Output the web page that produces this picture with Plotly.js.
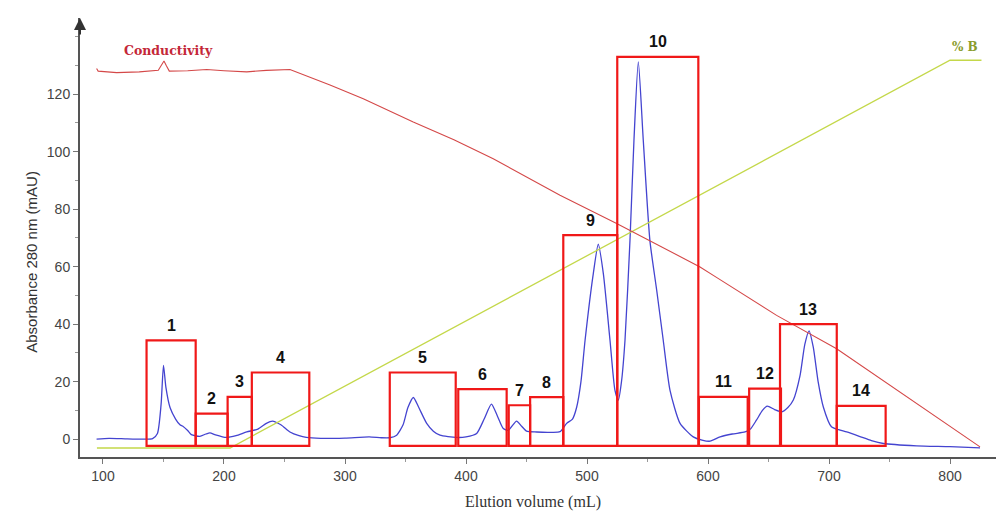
<!DOCTYPE html>
<html>
<head>
<meta charset="utf-8">
<script src="https://cdn.plot.ly/plotly-3.0.1.min.js"></script>
<style>
  html, body { margin: 0; padding: 0; background: #ffffff; }
  #chart { width: 996px; height: 512px; }
</style>
</head>
<body>
<div id="chart"></div>
<script>
// UV absorbance at 280 nm (mAU) against elution volume (mL)
const volumeUV = [94.7, 105, 120, 135, 141, 145, 148, 150, 152, 155.4, 160, 163.6, 166, 170, 173, 180, 185, 188.4,
  193, 202, 210, 218.8, 228, 235, 240, 247, 254.5, 262, 268, 280, 300, 320, 330, 337, 342.7, 348, 352, 356.5,
  361, 367.5, 373, 378.5, 392, 400, 408.8, 415, 421, 426, 430.8, 435, 441.8, 446, 450, 458.4, 470, 477.7,
  483.2, 488, 491.5, 495, 498.4, 505.2, 509.3, 513.5, 519, 523.1, 525.9, 528.5, 531.4, 535.5, 538.8, 542.4,
  546.5, 552, 557.6, 563, 568.6, 576.9, 587.8, 595, 601.7, 610, 620, 630.6, 635, 640, 645, 649, 655, 661,
  666, 670.5, 676, 680, 683.5, 687, 691, 695.3, 702, 708, 714.6, 725, 735, 744.9, 772.4, 800, 824.8];
const absorbance = [0, 0.3, 0.1, 0, 0.2, 2, 12, 25.7, 18, 11, 7, 5, 4.5, 3, 1.6, 1.0, 1.8, 2.2,
  1.5, 0.6, 1.2, 2.5, 3.5, 5.5, 6.3, 5, 2.5, 1.2, 0.6, 0.3, 0.4, 0.8, 0.5, 0.5, 1.4, 5, 11, 14.5,
  11, 5.5, 2.8, 1.4, 0.6, 0.8, 2, 7, 12.2, 8, 3.7, 3.1, 6.3, 4.5, 2.8, 2.5, 2.4, 2.6,
  5.5, 7, 11.2, 20, 34.4, 57.6, 67.8, 57.6, 34.4, 17, 13.6, 20, 34.4, 69, 104, 131.2,
  104, 69, 51.8, 34.4, 17, 5.5, 0.8, -0.3, -0.7, 0.8, 1.8, 2.5, 3.5, 6.6, 10, 11.5, 10.3, 9.5,
  11, 13.6, 22, 33, 37.7, 32, 20, 11.2, 4.3, 3.3, 2.5, 1, -0.5, -1.5, -2.3, -2.6, -3];

// Conductivity, relative scale (secondary, unlabelled axis)
const volumeCond = [94.7, 96, 111.3, 130, 145.7, 148, 150.4, 152.5, 154.8, 170, 185.7, 200, 218.8, 235, 254.5,
  287.6, 315.1, 356.4, 390, 422.5, 477.7, 524.5, 593.4, 607, 656.7, 706.3, 760, 824.8];
const conductivity = [97.9, 97.2, 96.8, 97.0, 97.4, 98.5, 99.8, 98.5, 97.2, 97.3, 97.6, 97.3, 97.0, 97.4, 97.6,
  93.6, 90.1, 84.1, 79.5, 74.6, 65.2, 57.9, 46.7, 44.0, 34.2, 25.6, 14.1, 0.3];

// Gradient, % B
const volumeB = [95, 205, 800, 826];
const percentB = [0, 0, 100, 100];

// Collected fractions: volume window and box height (mAU)
const fractionLabels = ['1', '2', '3', '4', '5', '6', '7', '8', '9', '10', '11', '12', '13', '14'];
const fractionStart = [136, 176.6, 203, 223, 337, 393.6, 435.3, 453, 480.4, 525, 592.5, 634, 659.5, 706.4];
const fractionEnd = [176.6, 203, 223, 270.5, 391.5, 433.6, 453, 480.4, 525, 592, 632.8, 660.3, 706.4, 746.8];
const fractionHeight = [34.4, 8.9, 14.7, 23.2, 23.2, 17.4, 11.8, 14.6, 71, 133, 14.7, 17.6, 40, 11.6];
const fractionFloor = -2.3;

const xTickValues = [100, 200, 300, 400, 500, 600, 700, 800];
const yTickValues = [0, 20, 40, 60, 80, 100, 120];

const boxShapes = fractionLabels.map((_, i) => ({
  type: 'rect', xref: 'x', yref: 'y',
  x0: fractionStart[i], x1: fractionEnd[i], y0: fractionFloor, y1: fractionHeight[i],
  line: { color: '#f01818', width: 2.2 }, fillcolor: 'rgba(0,0,0,0)', layer: 'above'
}));

const boxLabels = fractionLabels.map((t, i) => ({
  text: '<b>' + t + '</b>', xref: 'x', yref: 'y',
  x: (fractionStart[i] + fractionEnd[i]) / 2, y: fractionHeight[i],
  yshift: 15, showarrow: false,
  font: { family: 'Liberation Sans, Arial, sans-serif', size: 16, color: '#111111' }
}));

const traces = [
  { x: volumeB, y: percentB, yaxis: 'y2', mode: 'lines', name: '% B',
    line: { color: '#c4d84a', width: 1.3 }, hoverinfo: 'skip' },
  { x: volumeCond, y: conductivity, yaxis: 'y2', mode: 'lines', name: 'Conductivity',
    line: { color: '#d44848', width: 1.1 }, hoverinfo: 'skip' },
  { x: volumeUV, y: absorbance, mode: 'lines', name: 'A280',
    line: { color: '#4444d0', width: 1.3, shape: 'spline', smoothing: 0.6 }, hoverinfo: 'skip' }
];

const layout = {
  width: 996, height: 512,
  margin: { l: 80, r: 0, t: 18, b: 55 },
  paper_bgcolor: '#ffffff', plot_bgcolor: '#ffffff',
  showlegend: false,
  xaxis: {
    range: [81, 838], showgrid: false, zeroline: false,
    showline: true, linecolor: '#555555', linewidth: 2,
    tickmode: 'array', tickvals: xTickValues, ticks: 'outside', ticklen: 5, tickcolor: '#777777',
    minor: { dtick: 50, tick0: 0, ticks: 'outside', ticklen: 3, tickcolor: '#999999' },
    tickfont: { family: 'Liberation Sans, Arial, sans-serif', size: 14, color: '#444444' }
  },
  yaxis: {
    range: [-6.2, 146.5], showgrid: false, zeroline: false,
    showline: true, linecolor: '#555555', linewidth: 2,
    tickmode: 'array', tickvals: yTickValues, ticks: 'outside', ticklen: 5, tickcolor: '#777777',
    minor: { dtick: 10, tick0: 0, ticks: 'outside', ticklen: 3, tickcolor: '#999999' },
    tickfont: { family: 'Liberation Sans, Arial, sans-serif', size: 14, color: '#444444' }
  },
  yaxis2: {
    range: [-2.32, 110.9], overlaying: 'y', side: 'right', visible: false,
    showgrid: false, zeroline: false
  },
  shapes: boxShapes,
  annotations: boxLabels.concat([
    // axis titles
    { text: 'Elution volume (mL)', xref: 'paper', yref: 'paper', x: 0.494, y: 0, yshift: -45,
      yanchor: 'middle', showarrow: false,
      font: { family: 'Liberation Serif, Times New Roman, serif', size: 16, color: '#333333' } },
    { text: 'Absorbance 280 nm (mAU)', xref: 'paper', yref: 'paper', x: 0, xshift: -59, y: 0.4435,
      textangle: -90, showarrow: false,
      font: { family: 'Liberation Sans, Arial, sans-serif', size: 15, color: '#333333' } },
    // trace labels
    { text: '<b>Conductivity</b>', xref: 'x', yref: 'y2', x: 154, y: 102.5, showarrow: false,
      font: { family: 'DejaVu Serif, serif', size: 12.5, color: '#c42838' } },
    { text: '<b>% B</b>', xref: 'x', yref: 'y2', x: 812, y: 103.4, showarrow: false, bgcolor: '#ffffff',
      font: { family: 'DejaVu Serif, serif', size: 12, color: '#8a9c2c' } },
    // arrowhead on the vertical axis
    { xref: 'paper', yref: 'paper', x: 0, y: 1, ax: 0, ay: 18, showarrow: true, text: '',
      arrowhead: 2, arrowsize: 1.2, arrowwidth: 2, arrowcolor: '#333333' }
  ])
};

Plotly.newPlot('chart', traces, layout, { staticPlot: true, displayModeBar: false });
</script>
</body>
</html>
